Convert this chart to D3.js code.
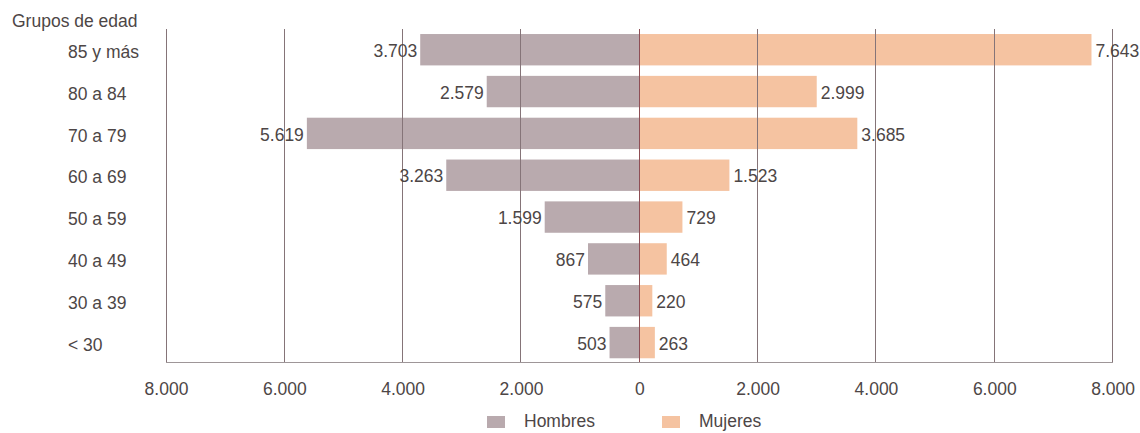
<!DOCTYPE html>
<html>
<head>
<meta charset="utf-8">
<script src="https://cdn.jsdelivr.net/npm/d3@7"></script>
<style>
  html, body { margin: 0; padding: 0; background: #ffffff; }
  svg { display: block; font-family: "Liberation Sans", Arial, Helvetica, sans-serif; }
</style>
</head>
<body>
<svg id="chart" width="1140" height="433"></svg>
<script>
// ---- Data ----
const categories = ["85 y más", "80 a 84", "70 a 79", "60 a 69", "50 a 59", "40 a 49", "30 a 39", "< 30"];
const hombres = [3703, 2579, 5619, 3263, 1599, 867, 575, 503];
const mujeres = [7643, 2999, 3685, 1523, 729, 464, 220, 263];
const tickValues = [-8000, -6000, -4000, -2000, 0, 2000, 4000, 6000, 8000];
const seriesNames = ["Hombres", "Mujeres"];
const axisTitle = "Grupos de edad";

// ---- Setup ----
const svg = d3.select("#chart");
const colH = "#b9aaae";
const colM = "#f5c3a1";
const textCol = "#4d4646";
const gridCol = "#857478";
const zeroCol = "#8e4e55";
const fontSize = 17.5;

const locale = d3.formatLocale({ decimal: ",", thousands: ".", grouping: [3], currency: ["", ""] });
const fmt = locale.format(",d");

const x = d3.scaleLinear().domain([-8000, 8000]).range([166, 1112.6]);
const y = d3.scaleBand().domain(categories).range([28.8, 363.5]).paddingInner(0.25).paddingOuter(0.125);

const yTop = y.range()[0];
const yBottom = 362;

// Bars
const gBars = svg.append("g");
gBars.selectAll("rect.h").data(categories).join("rect")
  .attr("class", "h")
  .attr("x", (d, i) => x(-hombres[i]))
  .attr("y", d => y(d))
  .attr("width", (d, i) => x(0) - x(-hombres[i]))
  .attr("height", y.bandwidth())
  .attr("fill", colH);
gBars.selectAll("rect.m").data(categories).join("rect")
  .attr("class", "m")
  .attr("x", x(0))
  .attr("y", d => y(d))
  .attr("width", (d, i) => x(mujeres[i]) - x(0))
  .attr("height", y.bandwidth())
  .attr("fill", colM);

// Grid lines (over bars)
const gGrid = svg.append("g");
gGrid.selectAll("line").data(tickValues).join("line")
  .attr("x1", d => x(d)).attr("x2", d => x(d))
  .attr("y1", yTop).attr("y2", yBottom)
  .attr("stroke", d => d === 0 ? zeroCol : gridCol)
  .attr("stroke-width", 1)
  .attr("shape-rendering", "crispEdges");

// Bottom axis line
svg.append("line")
  .attr("x1", x(-8000)).attr("x2", x(8000))
  .attr("y1", yBottom).attr("y2", yBottom)
  .attr("stroke", "#9e9698").attr("stroke-width", 1)
  .attr("shape-rendering", "crispEdges");

// Axis tick labels via d3 axis
const axis = d3.axisBottom(x).tickValues(tickValues).tickSize(0).tickPadding(0)
  .tickFormat(d => fmt(Math.abs(d)));
const gAxis = svg.append("g").attr("transform", `translate(0, ${yBottom})`).call(axis);
gAxis.select(".domain").remove();
gAxis.selectAll("text")
  .attr("y", 27)
  .attr("dy", "0.35em")
  .attr("fill", textCol)
  .style("font-size", fontSize + "px")
  .style("font-family", '"Liberation Sans", Arial, sans-serif');

// Category labels
svg.append("g").selectAll("text").data(categories).join("text")
  .attr("x", 68)
  .attr("y", d => y(d) + y.bandwidth() / 2 + 2)
  .attr("dy", "0.35em")
  .attr("fill", textCol)
  .style("font-size", fontSize + "px")
  .text(d => d);

// Title
svg.append("text")
  .attr("x", 12).attr("y", 27)
  .attr("fill", textCol)
  .style("font-size", fontSize + "px")
  .text(axisTitle);

// Value labels
svg.append("g").selectAll("text").data(categories).join("text")
  .attr("x", (d, i) => x(-hombres[i]) - 3)
  .attr("y", d => y(d) + y.bandwidth() / 2 + 1)
  .attr("dy", "0.35em")
  .attr("text-anchor", "end")
  .attr("fill", textCol)
  .style("font-size", fontSize + "px")
  .text((d, i) => fmt(hombres[i]));
svg.append("g").selectAll("text").data(categories).join("text")
  .attr("x", (d, i) => x(mujeres[i]) + 4)
  .attr("y", d => y(d) + y.bandwidth() / 2 + 1)
  .attr("dy", "0.35em")
  .attr("text-anchor", "start")
  .attr("fill", textCol)
  .style("font-size", fontSize + "px")
  .text((d, i) => fmt(mujeres[i]));

// Legend
const legendItems = [
  { name: seriesNames[0], color: colH, x: 487 },
  { name: seriesNames[1], color: colM, x: 662 }
];
const gLeg = svg.append("g");
legendItems.forEach(it => {
  gLeg.append("rect")
    .attr("x", it.x).attr("y", 416).attr("width", 18).attr("height", 12)
    .attr("fill", it.color);
  gLeg.append("text")
    .attr("x", it.x + 37).attr("y", 421)
    .attr("dy", "0.35em")
    .attr("fill", textCol)
    .style("font-size", fontSize + "px")
    .text(it.name);
});
</script>
</body>
</html>
